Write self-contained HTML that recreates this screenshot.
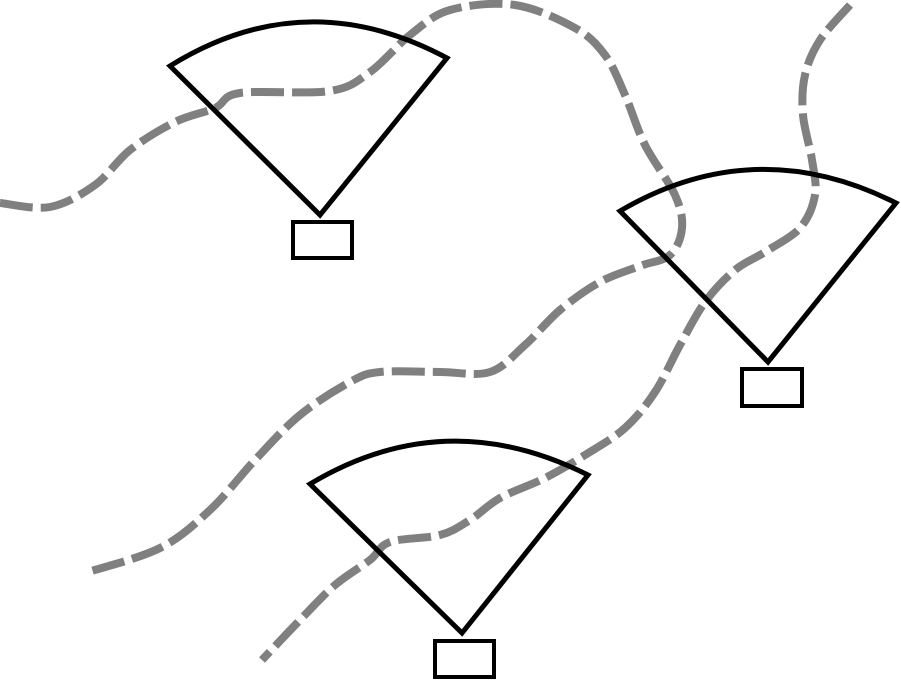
<!DOCTYPE html>
<html><head><meta charset="utf-8"><style>html,body{margin:0;padding:0;background:#fff}svg{display:block}</style></head>
<body>
<svg id="s" width="901" height="680" viewBox="0 0 901 680" xmlns="http://www.w3.org/2000/svg">
<g id="paths" fill="none" stroke="#808080" stroke-width="8" stroke-dasharray="33 8" stroke-linecap="butt"></g>
<g fill="none" stroke="#000" stroke-width="5" stroke-linejoin="miter">
<path d="M320,215 L170,66 Q305,-18 447,58 Z"/>
<rect x="293" y="222" width="59" height="36" stroke-width="4"/>
<path d="M768,362 L620,211 Q755,132 896,203 Z"/>
<rect x="742" y="369" width="60" height="37" stroke-width="4"/>
<path d="M462,633 L310,484 Q445,403 588,475 Z"/>
<rect x="435" y="641" width="59" height="36" stroke-width="4"/>
</g>
</svg>
<script>
const trackA = [[0,203],[50,207],[95,185],[130,150],[175,122],[215,108],[240,93],[330,91],[370,72],[410,35],[450,10],[515,5],[575,28],[605,55],[625,95],[645,145],[675,195],[682,228],[670,255],[640,266],[600,282],[560,310],[525,345],[490,372],[440,372],[380,372],[350,382],[300,415],[255,460],[210,510],[160,548],[85,573]];
const trackB = [[850,5],[820,40],[805,75],[803,115],[812,160],[815,195],[800,228],[765,252],[735,270],[705,302],[680,345],[655,392],[625,428],[585,455],[545,478],[500,498],[470,520],[440,535],[390,542],[370,560],[335,585],[300,620],[262,660]];
function smooth(p){
  let d='M'+p[0][0]+','+p[0][1];
  for(let i=0;i<p.length-1;i++){
    const p0=p[Math.max(0,i-1)],p1=p[i],p2=p[i+1],p3=p[Math.min(p.length-1,i+2)];
    const c1=[p1[0]+(p2[0]-p0[0])/6,p1[1]+(p2[1]-p0[1])/6];
    const c2=[p2[0]-(p3[0]-p1[0])/6,p2[1]-(p3[1]-p1[1])/6];
    d+=' C'+c1[0]+','+c1[1]+' '+c2[0]+','+c2[1]+' '+p2[0]+','+p2[1];
  }
  return d;
}
const g=document.getElementById('paths');
[[trackA,'dashed-track-1'],[trackB,'dashed-track-2']].forEach(([t,n])=>{
  const el=document.createElementNS('http://www.w3.org/2000/svg','path');
  el.setAttribute('d',smooth(t));
  
  
  g.appendChild(el);
});
</script>
</body></html>
